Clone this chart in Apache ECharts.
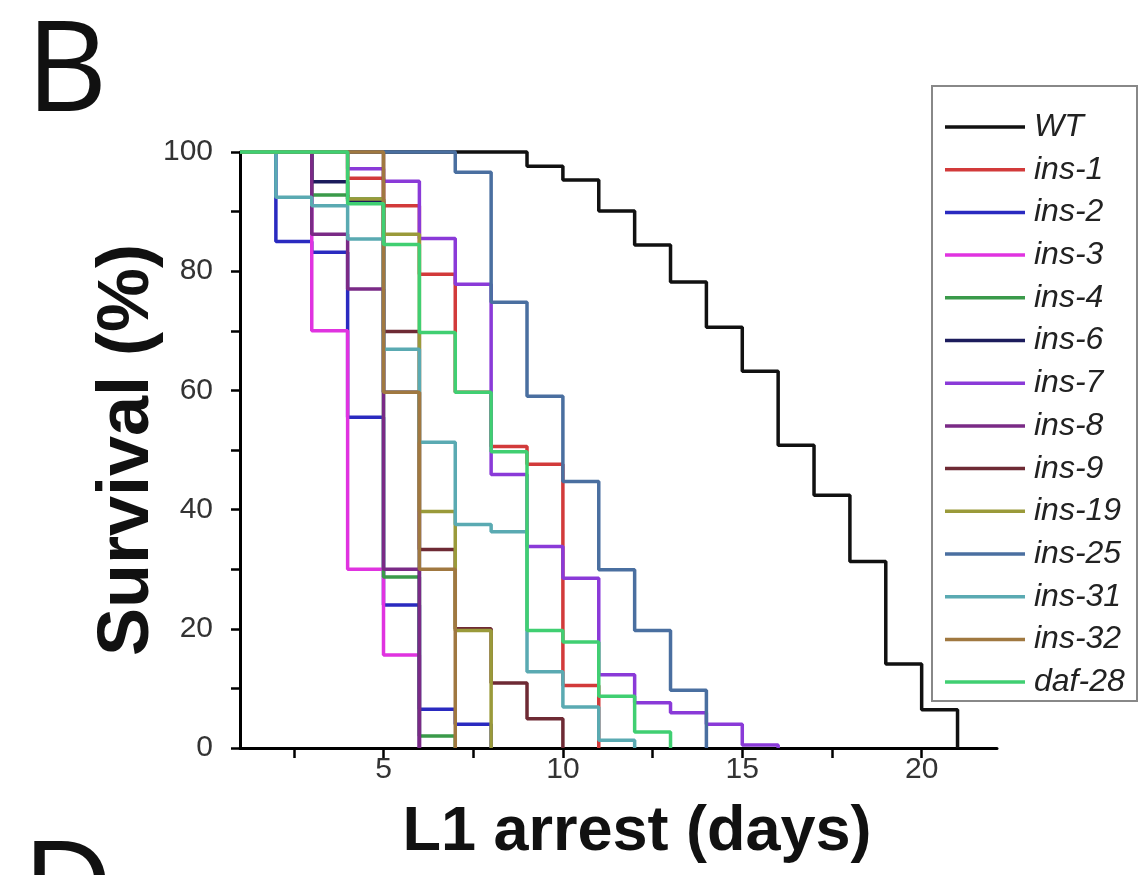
<!DOCTYPE html>
<html>
<head>
<meta charset="utf-8">
<script src="https://cdn.jsdelivr.net/npm/echarts@6/dist/echarts.min.js"></script>
<style>
  html, body { margin: 0; background: #fff; }
  #chart { width: 1141px; height: 875px; }
</style>
</head>
<body>
<div id="chart"></div>
<script>
// survival (%) for each day, the first value is day 1
const wt = [100, 100, 100, 100, 100, 100, 100, 100, 97.6, 95.3, 90.1, 84.4, 78.2, 70.6, 63.2, 50.8, 42.4, 31.3, 14.1, 6.4, 0];
const ins1 = [100, 100, 100, 95.6, 91, 79.5, 59.7, 50.6, 47.6, 10.5, 0];
const ins2 = [100, 85, 83.2, 55.5, 24, 6.5, 4, 0];
const ins3 = [100, 100, 70, 30, 15.6, 0];
const ins4 = [100, 100, 92.8, 92.1, 28.7, 2, 0];
const ins6 = [100, 100, 95, 91.8, 59.7, 0];
const ins7 = [100, 100, 100, 97.2, 95.1, 85.5, 77.8, 45.9, 33.8, 28.5, 12.3, 7.6, 5.9, 4.0, 0.5, 0];
const ins8 = [100, 100, 86.2, 77, 30, 0];
const ins9 = [100, 100, 100, 100, 69.9, 33.3, 20, 10.9, 4.9, 0];
const ins19 = [100, 100, 100, 92.1, 86.2, 39.7, 19.7, 0];
const ins25 = [100, 100, 100, 100, 100, 100, 96.6, 74.8, 59, 44.7, 29.9, 19.7, 9.7, 0];
const ins31 = [100, 92.4, 91, 85.4, 66.9, 51.3, 37.5, 36.3, 12.8, 6.9, 1.3, 0];
const ins32 = [100, 100, 100, 100, 59.7, 30, 0];
const daf28 = [100, 100, 100, 91.3, 84.5, 69.7, 59.7, 49.7, 19.7, 17.8, 8.7, 2.7, 0];

const names = ['WT', 'ins-1', 'ins-2', 'ins-3', 'ins-4', 'ins-6', 'ins-7', 'ins-8', 'ins-9', 'ins-19', 'ins-25', 'ins-31', 'ins-32', 'daf-28'];
const curves = [wt, ins1, ins2, ins3, ins4, ins6, ins7, ins8, ins9, ins19, ins25, ins31, ins32, daf28];
const colors = ['#111111', '#d23a3a', '#2a2ac0', '#e033e0', '#3a9a4a', '#1c1c5c', '#8a3ad8', '#7a2a86', '#6e2a34', '#9a9a3a', '#4a6fa0', '#5aaab2', '#a07840', '#40cf72'];

const xTicks = [2.5, 5, 7.5, 10, 12.5, 15, 17.5, 20];
const xLabels = [5, 10, 15, 20];

const chart = echarts.init(document.getElementById('chart'));

chart.setOption({
  animation: false,
  grid: { left: 240, top: 152, width: 757, height: 596 },
  xAxis: {
    type: 'value',
    min: 1,
    max: 22.1,
    axisLine: { lineStyle: { color: '#000', width: 3 } },
    axisTick: { customValues: xTicks, length: 10, lineStyle: { color: '#000', width: 2.5 } },
    axisLabel: { customValues: xLabels, fontSize: 30, color: '#333', margin: 7, fontFamily: 'Liberation Sans' },
    splitLine: { show: false }
  },
  yAxis: {
    type: 'value',
    min: 0,
    max: 100,
    interval: 10,
    axisLine: { show: true, lineStyle: { color: '#000', width: 3 } },
    axisTick: { show: true, length: 9, lineStyle: { color: '#000', width: 2.5 } },
    axisLabel: {
      formatter: v => (v % 20 === 0 ? v : ''),
      fontSize: 30, color: '#333', margin: 27, fontFamily: 'Liberation Sans'
    },
    splitLine: { show: false }
  },
  legend: {
    orient: 'vertical',
    left: 945,
    top: 111,
    padding: 0,
    icon: 'rect',
    itemWidth: 80,
    itemHeight: 3.5,
    itemGap: 10.7,
    data: names,
    textStyle: { fontSize: 32, lineHeight: 32, fontStyle: 'italic', color: '#222', fontFamily: 'Liberation Sans', padding: [0, 0, 0, 4] }
  },
  graphic: [
    { type: 'rect', shape: { x: 932, y: 86, width: 205, height: 615 }, style: { fill: 'none', stroke: '#888', lineWidth: 2 } },
    { type: 'text', left: 26, top: 12, style: { text: 'B', font: '126px "Open Sans"', fill: '#111' } },
    { type: 'text', left: 22, top: 832, style: { text: 'D', font: '126px "Open Sans"', fill: '#111' } },
    { type: 'text', x: 128, y: 450, rotation: Math.PI / 2,
      style: { text: 'Survival (%)', font: 'bold 72px "Liberation Sans"', fill: '#111', align: 'center', verticalAlign: 'middle' } },
    { type: 'text', x: 637, y: 833,
      style: { text: 'L1 arrest (days)', font: 'bold 63px "Liberation Sans"', fill: '#111', align: 'center', verticalAlign: 'middle' } }
  ],
  series: curves.map((c, i) => ({
    name: names[i],
    type: 'line',
    step: 'end',
    symbol: 'none',
    clip: false,
    color: colors[i],
    lineStyle: { width: 3.5 },
    data: c.map((v, d) => [d + 1, v])
  }))
});
</script>
</body>
</html>
